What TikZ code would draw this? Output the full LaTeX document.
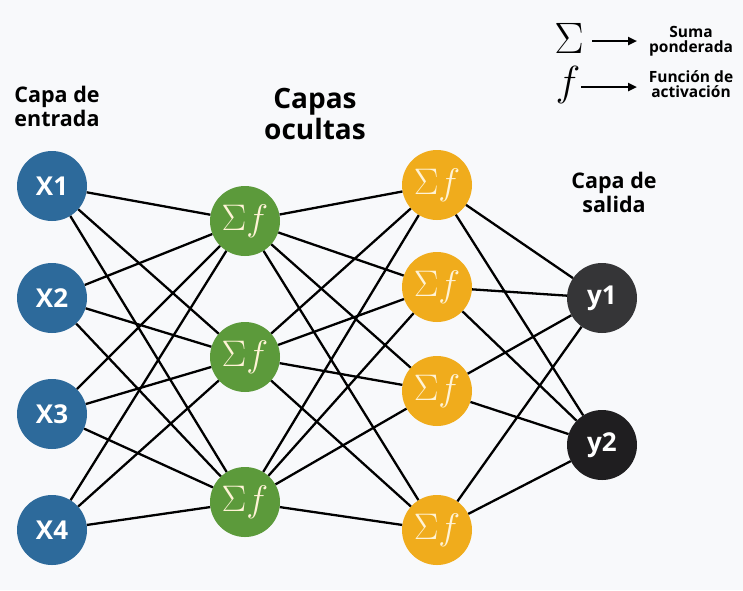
\documentclass[tikz,border=0pt]{standalone}
\usepackage{fix-cm}
\usepackage{fontspec}
\setsansfont{Open Sans}
\usetikzlibrary{arrows.meta}
\definecolor{bg}{HTML}{F8F9FB}
\definecolor{inblue}{HTML}{2D6A9B}
\definecolor{hgreen}{HTML}{5C9A3B}
\definecolor{horange}{HTML}{F0AC1C}
\definecolor{outA}{HTML}{353537}
\definecolor{outB}{HTML}{1F1E20}
\definecolor{cream}{HTML}{FFF3D6}
\tikzset{
  neuron/.style={circle, minimum size=70pt, inner sep=0pt},
  inp/.style={neuron, fill=inblue, text=white, font=\sffamily\bfseries\fontsize{26}{26}\selectfont},
  outn/.style={neuron, text=white, font=\sffamily\bfseries\fontsize{26}{26}\selectfont},
  hid/.style={neuron, text=cream, font=\fontsize{37}{37}\selectfont},
  link/.style={line width=2.3pt, black},
  title/.style={align=center, font=\sffamily\bfseries\fontsize{21.5}{24}\selectfont, text=black},
  legtext/.style={align=center, font=\sffamily\bfseries\fontsize{15.5}{14.5}\selectfont, text=black},
  legarrow/.style={line width=2.3pt, -{Triangle[length=9pt,width=8pt]}},
}
\begin{document}
\begin{tikzpicture}[x=1pt,y=-1pt]
\fill[bg] (0,0) rectangle (743,590);
\useasboundingbox (0,0) rectangle (743,590);

\node[inp] (x1) at (52,186) {X1};
\node[inp] (x2) at (52,298) {X2};
\node[inp] (x3) at (52,414) {X3};
\node[inp] (x4) at (52,530) {X4};

\node[hid, fill=hgreen] (g1) at (245,221) {$\Sigma f$};
\node[hid, fill=hgreen] (g2) at (245,357) {$\Sigma f$};
\node[hid, fill=hgreen] (g3) at (245,502) {$\Sigma f$};

\node[hid, fill=horange] (o1) at (437,185) {$\Sigma f$};
\node[hid, fill=horange] (o2) at (437,287) {$\Sigma f$};
\node[hid, fill=horange] (o3) at (437,391) {$\Sigma f$};
\node[hid, fill=horange] (o4) at (437,530) {$\Sigma f$};

\node[outn, fill=outA] (y1) at (602,298) {y1};
\node[outn, fill=outB] (y2) at (602,445) {y2};

\foreach \a in {x1,x2,x3,x4}
  \foreach \b in {g1,g2,g3}
    \draw[link] (\a) -- (\b);
\foreach \a in {g1,g2,g3}
  \foreach \b in {o1,o2,o3,o4}
    \draw[link] (\a) -- (\b);
\foreach \a in {o1,o2,o3,o4}
  \foreach \b in {y1,y2}
    \draw[link] (\a) -- (\b);

% titles
\node[title] (tin) at (57,106) {Capa de\\entrada};
\node[title, font=\sffamily\bfseries\fontsize{28}{31}\selectfont] (thid) at (315,114) {Capas\\ocultas};
\node[title] (tout) at (614,192) {Capa de\\salida};

% legend
\node[font=\fontsize{44}{44}\selectfont, inner sep=0pt] (sig) at (569,38) {$\Sigma$};
\node[font=\fontsize{42}{42}\selectfont, inner sep=0pt] (ff) at (568,85) {$f$};
\coordinate (sigS) at (592,41);
\coordinate (sigA) at (637,41);
\coordinate (ffS) at (581,87);
\coordinate (ffA) at (637,87);
\node[legtext] (l1) at (691,41) {Suma\\ponderada};
\node[legtext] (l2) at (691,84) {Función de\\activación};
\draw[legarrow] (sigS) -- (sigA);
\draw[legarrow] (ffS) -- (ffA);
\end{tikzpicture}
\end{document}
